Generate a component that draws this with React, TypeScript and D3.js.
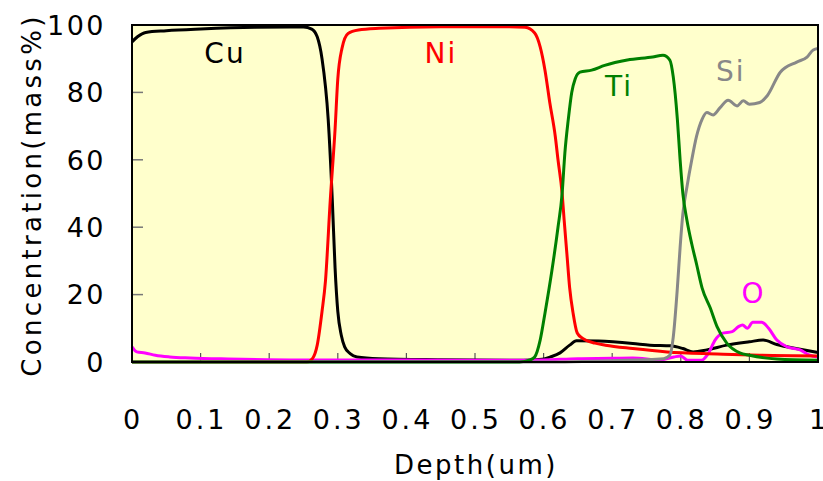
import React, { useEffect, useRef } from "react";
import { select, scaleLinear, line, curveMonotoneX } from "d3";

// depth (um) / concentration (mass%)
const cuProfile: [number, number][] = [
  [0, 95], [0.008, 96.5], [0.02, 97.8], [0.05, 98.3], [0.1, 98.8], [0.18, 99.3],
  [0.25, 99.4], [0.262, 98.8], [0.27, 96.5], [0.277, 90], [0.286, 72], [0.292, 48],
  [0.296, 28], [0.3, 15], [0.305, 8], [0.31, 4.5], [0.318, 2.5], [0.328, 1.5],
  [0.36, 1.0], [0.45, 0.7], [0.57, 0.5], [0.598, 0.8], [0.61, 1.5], [0.624, 2.7],
  [0.638, 5], [0.648, 6.3], [0.68, 6.2], [0.73, 5.5], [0.755, 5], [0.785, 4.8],
  [0.803, 4], [0.818, 3], [0.838, 3.6], [0.867, 5], [0.9, 6], [0.92, 6.5],
  [0.94, 5.2], [0.974, 3.8], [1, 2.8],
];

const niProfile: [number, number][] = [
  [0, 0], [0.255, 0], [0.263, 1], [0.27, 5], [0.277, 15], [0.282, 24],
  [0.289, 48], [0.296, 69], [0.3, 84], [0.306, 93], [0.315, 97.5], [0.33, 98.5],
  [0.36, 99], [0.45, 99.5], [0.55, 99.5], [0.573, 99.3], [0.587, 97.6],
  [0.595, 93.5], [0.602, 86.6], [0.609, 77], [0.617, 67], [0.621, 60],
  [0.627, 50], [0.63, 42], [0.634, 32], [0.638, 22], [0.643, 14.5], [0.649, 8.6],
  [0.657, 7], [0.675, 5.6], [0.69, 5], [0.73, 4], [0.78, 3], [0.853, 2.4],
  [0.915, 2], [1, 1.8],
];

const tiProfile: [number, number][] = [
  [0, 0], [0.565, 0], [0.58, 0.6], [0.587, 1.5], [0.595, 6.5], [0.602, 14.5],
  [0.612, 27], [0.621, 40], [0.627, 50], [0.631, 62], [0.636, 72], [0.641, 80],
  [0.646, 84], [0.653, 86], [0.67, 86.6], [0.689, 88], [0.722, 89.6],
  [0.759, 90.5], [0.774, 91], [0.784, 89.6], [0.789, 84.6], [0.795, 72],
  [0.799, 60], [0.803, 50], [0.809, 42], [0.816, 35], [0.823, 29], [0.831, 22],
  [0.843, 16], [0.853, 10.4], [0.867, 5.6], [0.886, 2.7], [0.9, 2], [0.94, 0.9],
  [1, 0.5],
];

const siProfile: [number, number][] = [
  [0, 0], [0.6, 0], [0.7, 0.4], [0.775, 1], [0.784, 2], [0.789, 7.4],
  [0.795, 22], [0.799, 34], [0.803, 44], [0.809, 52], [0.816, 60], [0.823, 67],
  [0.831, 72], [0.838, 74], [0.847, 73.3], [0.857, 75.4], [0.869, 77.7],
  [0.882, 76], [0.891, 77.5], [0.9, 76.5], [0.915, 77], [0.926, 79],
  [0.945, 86], [0.969, 89], [0.984, 90.5], [0.993, 92.6], [1, 93],
];

const oProfile: [number, number][] = [
  [0, 4.5], [0.007, 3], [0.019, 2.7], [0.034, 2], [0.055, 1.5], [0.085, 1.2],
  [0.14, 0.9], [0.245, 0.6], [0.4, 0.6], [0.55, 0.5], [0.6, 0.6], [0.65, 1],
  [0.7, 1.1], [0.73, 1.2], [0.77, 0.6], [0.79, 1.5], [0.8, 1.8], [0.81, 0.5],
  [0.83, 0.5], [0.84, 2.5], [0.85, 6.5], [0.86, 8.5], [0.875, 9], [0.884, 10.5],
  [0.89, 11], [0.897, 10], [0.905, 11.8], [0.918, 11.8], [0.928, 10],
  [0.94, 6.5], [0.955, 4.5], [0.974, 3.6], [0.988, 2], [1, 1.5],
];

const xTicks = [0, 0.1, 0.2, 0.3, 0.4, 0.5, 0.6, 0.7, 0.8, 0.9, 1];
const yTicks = [0, 20, 40, 60, 80, 100];

// element name, data, colour, label position (depth, value)
const series = [
  { name: "Cu", data: cuProfile, color: "#000000", at: [0.1356, 88.7] },
  { name: "O", data: oProfile, color: "#ff00ff", at: [0.906, 17.5] },
  { name: "Ni", data: niProfile, color: "#ff0000", at: [0.4504, 88.7] },
  { name: "Si", data: siProfile, color: "#888888", at: [0.873, 83.5] },
  { name: "Ti", data: tiProfile, color: "#008000", at: [0.71, 79] },
];

const FONT = "'DejaVu Sans', Verdana, sans-serif";

function DepthProfile() {
  const svgRef = useRef<SVGSVGElement>(null);

  useEffect(() => {
    const svg = select(svgRef.current);
    svg.selectAll("*").remove();

    const xScale = scaleLinear().domain([0, 1]).range([132, 818]);
    const yScale = scaleLinear().domain([0, 100]).range([362, 25]);

    // plot background
    svg
      .append("rect")
      .attr("x", xScale(0))
      .attr("y", yScale(100))
      .attr("width", xScale(1) - xScale(0))
      .attr("height", yScale(0) - yScale(100))
      .attr("fill", "#ffffcc");

    // inward ticks
    svg
      .selectAll(".ytick")
      .data(yTicks.filter((t) => t > 0 && t < 100))
      .join("line")
      .attr("x1", xScale(0))
      .attr("x2", xScale(0) + 11)
      .attr("y1", (d) => yScale(d))
      .attr("y2", (d) => yScale(d))
      .attr("stroke", "#777")
      .attr("stroke-width", 1.5);

    svg
      .selectAll(".xtick")
      .data(xTicks.filter((t) => t > 0 && t < 1))
      .join("line")
      .attr("x1", (d) => xScale(d))
      .attr("x2", (d) => xScale(d))
      .attr("y1", yScale(0))
      .attr("y2", yScale(0) - 9)
      .attr("stroke", "#555")
      .attr("stroke-width", 1.2);

    // profiles
    const lineGen = line<[number, number]>()
      .x((d) => xScale(d[0]))
      .y((d) => yScale(d[1]))
      .curve(curveMonotoneX);

    svg
      .selectAll(".profile")
      .data(series)
      .join("path")
      .attr("d", (s) => lineGen(s.data))
      .attr("fill", "none")
      .attr("stroke", (s) => s.color)
      .attr("stroke-width", 3)
      .attr("stroke-linejoin", "round");

    // frame
    svg
      .append("rect")
      .attr("x", xScale(0))
      .attr("y", yScale(100))
      .attr("width", xScale(1) - xScale(0))
      .attr("height", yScale(0) - yScale(100))
      .attr("fill", "none")
      .attr("stroke", "#000")
      .attr("stroke-width", 2);

    // element labels
    svg
      .selectAll(".elabel")
      .data(series)
      .join("text")
      .attr("x", (s) => xScale(s.at[0]))
      .attr("y", (s) => yScale(s.at[1]))
      .attr("text-anchor", "middle")
      .attr("fill", (s) => s.color)
      .style("font-family", FONT)
      .style("font-size", "28px")
      .style("letter-spacing", "2px")
      .text((s) => s.name);

    // tick labels
    svg
      .selectAll(".ylabel")
      .data(yTicks)
      .join("text")
      .attr("x", 106)
      .attr("y", (d) => yScale(d))
      .attr("dy", "0.36em")
      .attr("text-anchor", "end")
      .style("font-family", FONT)
      .style("font-size", "27px")
      .style("letter-spacing", "2.5px")
      .text((d) => d);

    svg
      .selectAll(".xlabel")
      .data(xTicks)
      .join("text")
      .attr("x", (d) => xScale(d) + 1)
      .attr("y", 429)
      .attr("text-anchor", "middle")
      .style("font-family", FONT)
      .style("font-size", "27px")
      .style("letter-spacing", "3px")
      .text((d) => String(d));

    // axis titles
    svg
      .append("text")
      .attr("x", 476)
      .attr("y", 474)
      .attr("text-anchor", "middle")
      .style("font-family", FONT)
      .style("font-size", "26px")
      .style("letter-spacing", "2.5px")
      .text("Depth(um)");

    svg
      .append("text")
      .attr("transform", "translate(41,195) rotate(-90)")
      .attr("text-anchor", "middle")
      .style("font-family", FONT)
      .style("font-size", "26px")
      .style("letter-spacing", "3.3px")
      .text("Concentration(mass%)");
  }, []);

  return (
    <svg
      ref={svgRef}
      width={823}
      height={481}
      style={{ position: "absolute", left: 0, top: 0, background: "#fff" }}
    />
  );
}

export default function App() {
  return <DepthProfile />;
}
